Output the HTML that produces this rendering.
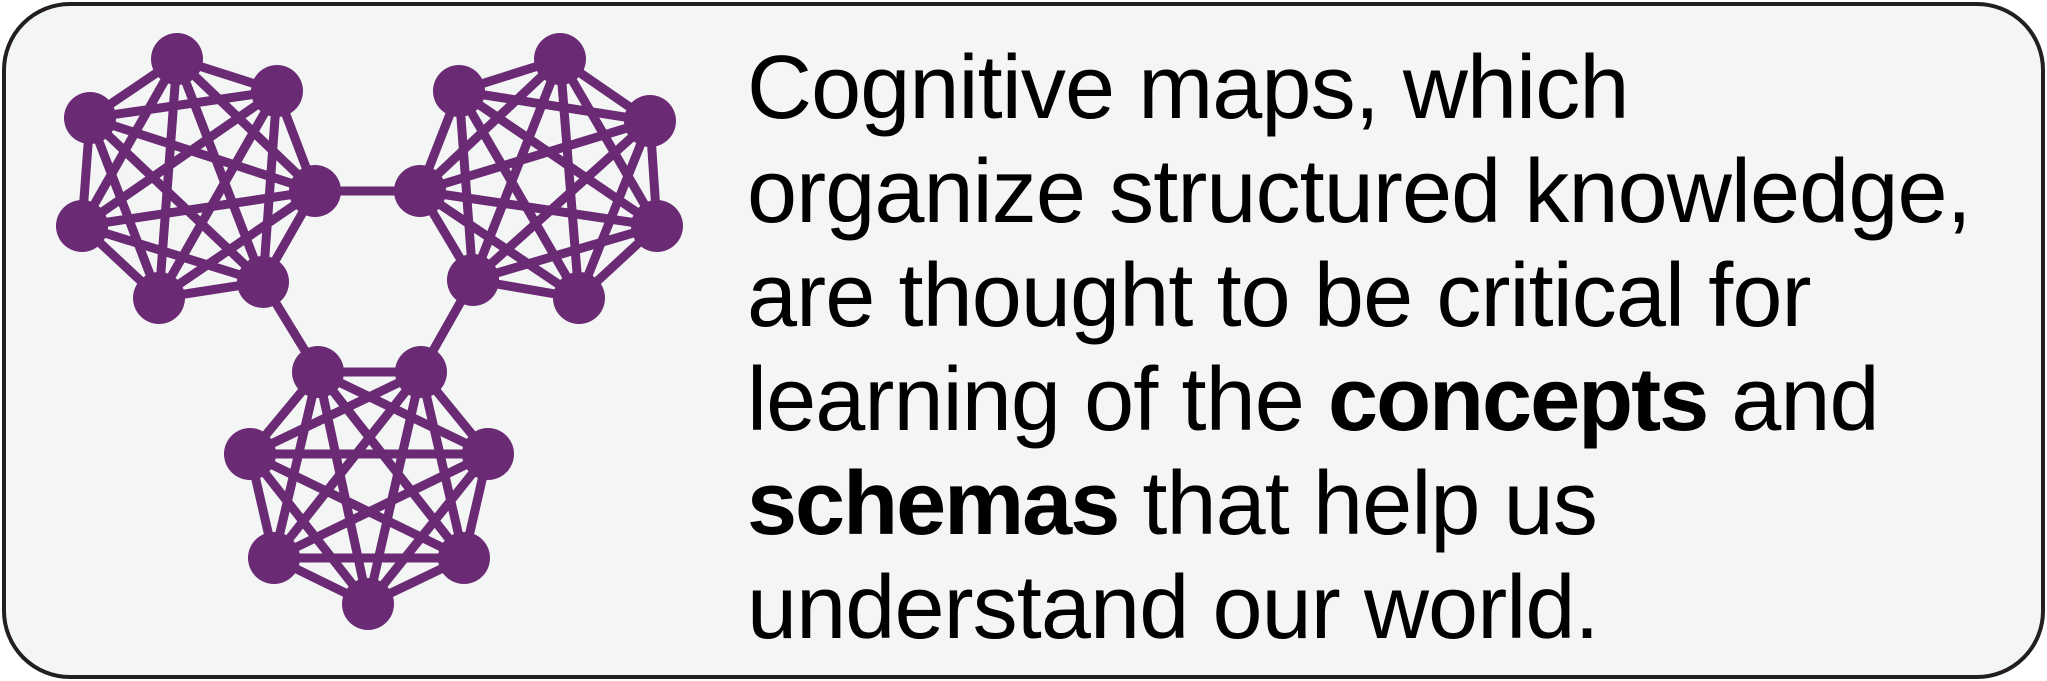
<!DOCTYPE html>
<html><head><meta charset="utf-8"><style>
html,body{margin:0;padding:0;width:2047px;height:681px;background:#fff;overflow:hidden}
.box{position:absolute;left:2px;top:2px;width:2035px;height:669px;border:4px solid #231f20;border-radius:68px;background:#f4f6f5}
.t{position:absolute;left:747px;font-family:"Liberation Sans",Arial,sans-serif;font-size:90px;letter-spacing:-0.9px;color:#000;white-space:nowrap;line-height:1}
b{font-weight:bold;letter-spacing:-2px}
svg{position:absolute;left:0;top:0}
</style></head><body>
<div class="box"></div>
<svg width="2047" height="681" id="g"></svg>
<div class="t" style="top:43px">Cognitive maps, which</div>
<div class="t" style="top:147px">organize structured knowledge,</div>
<div class="t" style="top:251px">are thought to be critical for</div>
<div class="t" style="top:355px">learning of the <b>concepts</b> and</div>
<div class="t" style="top:459px"><b>schemas</b> that help us</div>
<div class="t" style="top:563px">understand our world.</div>
<script>
var C=[[[177,59],[277,91],[90,118],[315,191],[82,226],[159,298],[263,282]],
[[560,59],[459,91],[650,121],[420,191],[657,226],[473,280],[579,298]],
[[318,372],[421,372],[250,454],[488,454],[274,558],[464,558],[368,604]]];
var L=[[[315,191],[420,191]],[[263,282],[318,372]],[[473,280],[421,372]]];
var s='';
C.forEach(function(c){for(var i=0;i<c.length;i++)for(var j=i+1;j<c.length;j++)L.push([c[i],c[j]]);});
L.forEach(function(l){s+='<line x1="'+l[0][0]+'" y1="'+l[0][1]+'" x2="'+l[1][0]+'" y2="'+l[1][1]+'"/>';});
var n='';C.forEach(function(c){c.forEach(function(p){n+='<circle cx="'+p[0]+'" cy="'+p[1]+'" r="26"/>';});});
document.getElementById('g').innerHTML='<g stroke="#6a2a74" stroke-width="9">'+s+'</g><g fill="#6a2a74">'+n+'</g>';
</script>
</body></html>
